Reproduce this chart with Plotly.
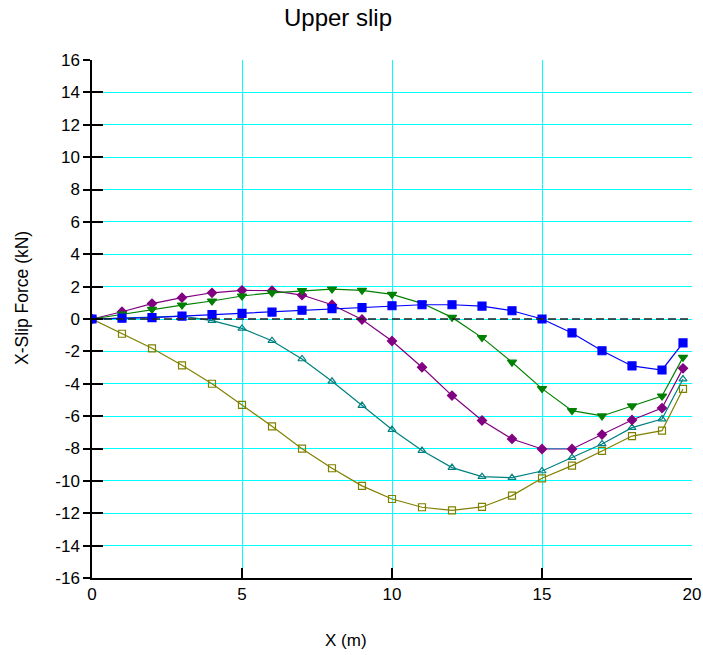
import plotly.graph_objects as go

x_vals = [0, 1, 2, 3, 4, 5, 6, 7, 8, 9, 10, 11, 12, 13, 14, 15, 16, 17, 18, 19, 19.7]

blue_vals = [0, 0.05, 0.08, 0.18, 0.27, 0.35, 0.43, 0.54, 0.64, 0.70, 0.82, 0.88, 0.88, 0.80,
             0.51, 0.0, -0.86, -1.96, -2.90, -3.15, -1.48]
purple_vals = [0, 0.45, 0.95, 1.32, 1.62, 1.77, 1.75, 1.48, 0.88, -0.03, -1.36, -2.98, -4.73,
               -6.27, -7.41, -8.03, -8.03, -7.14, -6.24, -5.50, -3.05]
green_vals = [0, 0.30, 0.60, 0.86, 1.11, 1.42, 1.62, 1.75, 1.85, 1.77, 1.52, 0.97, 0.10, -1.15,
              -2.67, -4.30, -5.66, -5.99, -5.37, -4.76, -2.37]
teal_vals = [0, 0.05, 0.14, 0.18, -0.10, -0.58, -1.34, -2.47, -3.85, -5.35, -6.83, -8.13, -9.18,
             -9.74, -9.80, -9.39, -8.57, -7.72, -6.71, -6.18, -3.71]
olive_vals = [0, -0.91, -1.81, -2.86, -4.00, -5.31, -6.63, -8.01, -9.22, -10.31, -11.12, -11.63,
              -11.82, -11.61, -10.91, -9.84, -9.06, -8.15, -7.23, -6.90, -4.32]

zero_x = [0, 20]
zero_y = [0, 0]

x_tick_vals = [0, 5, 10, 15, 20]
x_tick_text = ["0", "5", "10", "15", "20"]
y_tick_vals = list(range(-16, 17, 2))
y_tick_text = [str(v) for v in y_tick_vals]

FONT = "Liberation Sans, Arial, sans-serif"

W, H = 703, 655
L, R, T, B = 92, 11, 60, 77
PW, PH = W - L - R, H - T - B

fig = go.Figure()

fig.add_trace(go.Scatter(x=zero_x, y=zero_y, mode="lines", yaxis="y2",
                         line=dict(color="#202020", width=1.3, dash="8px,4px"), showlegend=False,
                         hoverinfo="skip"))

series = [
    (olive_vals, "#808000", "square-open", 7),
    (teal_vals, "#008080", "triangle-up-open", 7),
    (purple_vals, "#800080", "diamond", 7),
    (green_vals, "#008000", "triangle-down", 8),
    (blue_vals, "#0000FF", "square", 8),
]
for vals, col, sym, sz in series:
    fig.add_trace(go.Scatter(
        x=x_vals, y=vals, mode="lines+markers",
        line=dict(color=col, width=1.2),
        marker=dict(symbol=sym, size=sz, color=col, line=dict(color=col, width=1.2)),
        showlegend=False,
    ))

fig.update_layout(
    template="none",
    width=W, height=H, autosize=False,
    margin=dict(l=L, r=R, t=T, b=B, pad=0, autoexpand=False),
    paper_bgcolor="white", plot_bgcolor="white",
    font=dict(family=FONT, color="black", size=17),
    title=dict(text="Upper slip", font=dict(family=FONT, size=24, color="black"),
               xref="container", yref="container", x=338 / W, xanchor="center",
               y=1 - 18 / H, yanchor="middle"),
    xaxis=dict(range=[0, 20], tickvals=x_tick_vals, ticktext=x_tick_text,
               showgrid=True, gridcolor="#00FFFF", gridwidth=1, automargin=False,
               zeroline=False, showline=True, linecolor="black", linewidth=1.5,
               ticks="inside", ticklen=10, tickwidth=1.5, tickcolor="black",
               tickfont=dict(size=17), mirror=False),
    yaxis=dict(range=[-16, 16], tickvals=y_tick_vals, ticktext=y_tick_text,
               showgrid=True, gridcolor="#00FFFF", gridwidth=1, automargin=False,
               zeroline=False, showline=True, linecolor="black", linewidth=1.5,
               ticks="outside", ticklen=7, tickwidth=1.5, tickcolor="black",
               tickfont=dict(size=17)),
    yaxis2=dict(range=[-16, 16], overlaying="y", side="left", anchor="x", automargin=False,
                tickvals=y_tick_vals, showticklabels=False, showgrid=False,
                zeroline=False, showline=False,
                ticks="inside", ticklen=11, tickwidth=1.5, tickcolor="black"),
    annotations=[
        dict(text="X (m)", xref="paper", yref="paper", x=(346 - L) / PW, y=-(640 - (H - B)) / PH,
             xanchor="center", yanchor="middle", showarrow=False, font=dict(size=17)),
        dict(text="X-Slip Force (kN)", xref="paper", yref="paper", x=-(L - 22) / PW,
             y=((H - B) - 298) / PH, xanchor="center", yanchor="middle", textangle=-90,
             showarrow=False, font=dict(size=17.5)),
    ],
)

fig.write_html(
    "out.html",
    config={"responsive": False, "displayModeBar": False},
    post_script="document.body.style.margin='0';document.body.style.padding='0';"
                "document.body.style.overflow='hidden';",
)
